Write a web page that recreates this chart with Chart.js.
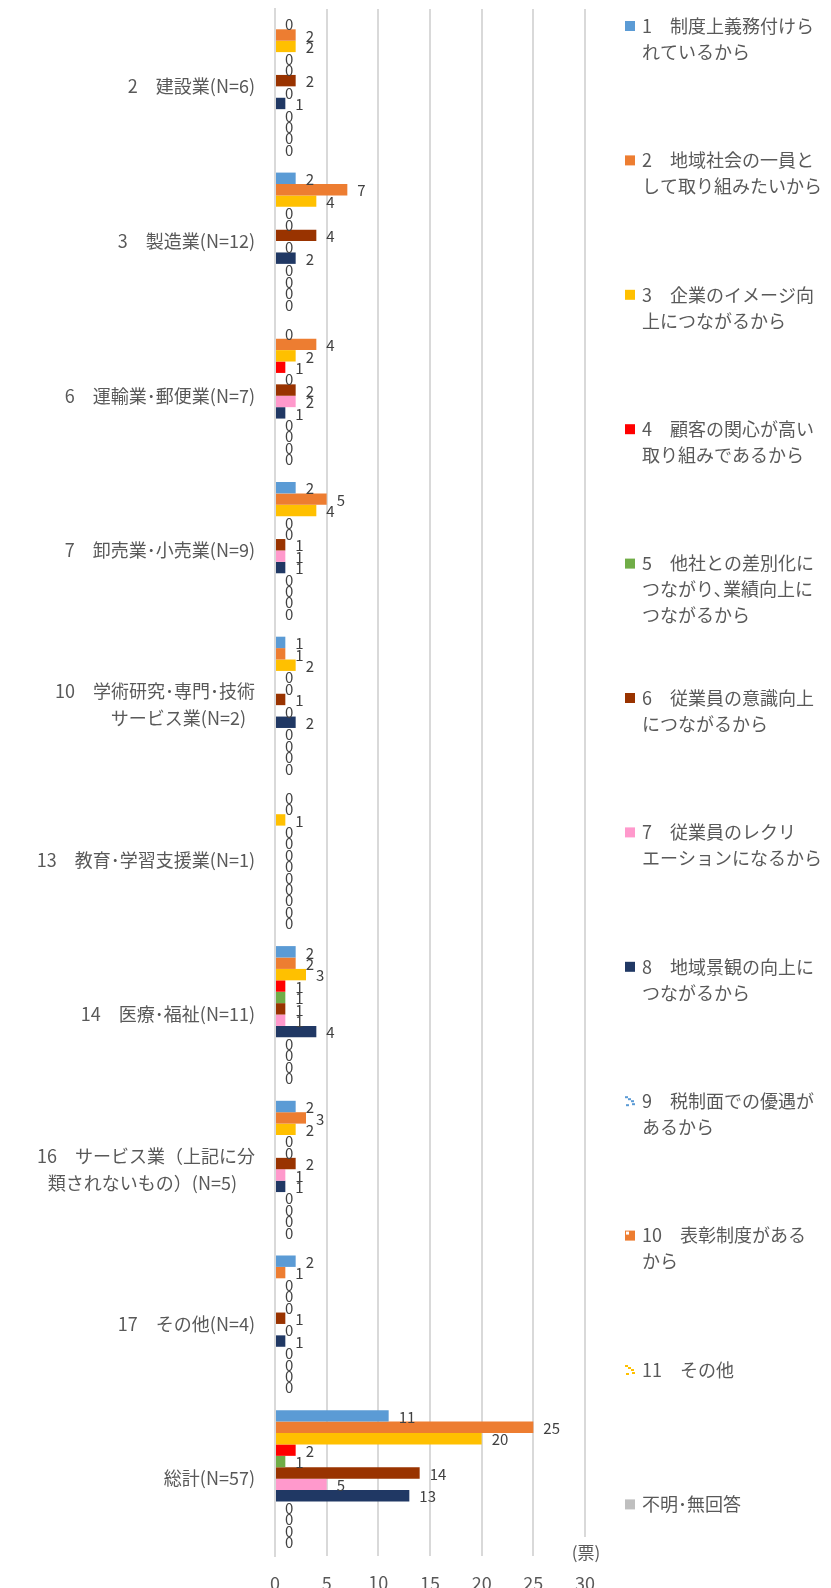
<!DOCTYPE html>
<html>
<head>
<meta charset="utf-8">
<script src="https://cdn.jsdelivr.net/npm/chart.js"></script>
<style>
  html, body { margin: 0; padding: 0; background: #fff; overflow: hidden; }
</style>
</head>
<body>
<canvas id="c" width="831" height="1600"></canvas>
<script>
// カテゴリ（業種）
const categories = [
  '2　建設業(N=6)',
  '3　製造業(N=12)',
  '6　運輸業･郵便業(N=7)',
  '7　卸売業･小売業(N=9)',
  ['10　学術研究･専門･技術', 'サービス業(N=2)\u2002'],
  '13　教育･学習支援業(N=1)',
  '14　医療･福祉(N=11)',
  ['16　サービス業（上記に分', '類されないもの）(N=5)　'],
  '17　その他(N=4)',
  '総計(N=57)'
];

// 凡例（理由）
const seriesNames = [
  ['1　制度上義務付けら', 'れているから'],
  ['2　地域社会の一員と', 'して取り組みたいから'],
  ['3　企業のイメージ向', '上につながるから'],
  ['4　顧客の関心が高い', '取り組みであるから'],
  ['5　他社との差別化に', 'つながり､業績向上に', 'つながるから'],
  ['6　従業員の意識向上', 'につながるから'],
  ['7　従業員のレクリ', 'エーションになるから'],
  ['8　地域景観の向上に', 'つながるから'],
  ['9　税制面での優遇が', 'あるから'],
  ['10　表彰制度がある', 'から'],
  ['11　その他'],
  ['不明･無回答']
];

const colors = ['#5B9BD5', '#ED7D31', '#FFC000', '#FF0000', '#70AD47', '#993300',
  '#FF99CC', '#203864', '#5B9BD5', '#ED7D31', '#FFC000', '#BFBFBF'];

// 各理由ごとの票数（カテゴリ順）
const r1 = [0, 2, 0, 2, 1, 0, 2, 2, 2, 11];
const r2 = [2, 7, 4, 5, 1, 0, 2, 3, 1, 25];
const r3 = [2, 4, 2, 4, 2, 1, 3, 2, 0, 20];
const r4 = [0, 0, 1, 0, 0, 0, 1, 0, 0, 2];
const r5 = [0, 0, 0, 0, 0, 0, 1, 0, 0, 1];
const r6 = [2, 4, 2, 1, 1, 0, 1, 2, 1, 14];
const r7 = [0, 0, 2, 1, 0, 0, 1, 1, 0, 5];
const r8 = [1, 2, 1, 1, 2, 0, 4, 1, 1, 13];
const r9 = [0, 0, 0, 0, 0, 0, 0, 0, 0, 0];
const r10 = [0, 0, 0, 0, 0, 0, 0, 0, 0, 0];
const r11 = [0, 0, 0, 0, 0, 0, 0, 0, 0, 0];
const r12 = [0, 0, 0, 0, 0, 0, 0, 0, 0, 0];
const values = [r1, r2, r3, r4, r5, r6, r7, r8, r9, r10, r11, r12];

const xTicks = [0, 5, 10, 15, 20, 25, 30];
const unitLabel = '(票)';

const FONT = '"Noto Sans CJK JP", "Noto Sans", sans-serif';
const TXT = '#595959';

// 値ラベル
const valueLabels = {
  id: 'valueLabels',
  afterDatasetsDraw(chart) {
    const ctx = chart.ctx;
    ctx.save();
    ctx.font = '15px ' + FONT;
    ctx.fillStyle = '#404040';
    ctx.textAlign = 'left';
    ctx.textBaseline = 'middle';
    chart.data.datasets.forEach((ds, i) => {
      chart.getDatasetMeta(i).data.forEach((el, j) => {
        ctx.fillText(String(ds.data[j]), el.x + 10, el.y + 1);
      });
    });
    ctx.restore();
  }
};

// 凡例（右側）と単位
const sideLegend = {
  id: 'sideLegend',
  afterDraw(chart) {
    const ctx = chart.ctx;
    ctx.save();
    const x0 = 625, tx = 642, y0 = 26, step = 134.4, lh = 26;
    ctx.font = '18px ' + FONT;
    ctx.textBaseline = 'middle';
    ctx.textAlign = 'left';
    seriesNames.forEach((lines, i) => {
      const y = y0 + i * step;
      const c = colors[i];
      if (i === 8 || i === 10) {
        // 斜線パターン
        ctx.fillStyle = c;
        ctx.fillRect(x0, y - 5, 3, 2);
        ctx.fillRect(x0 + 3, y - 3, 3, 2);
        ctx.fillRect(x0 + 6, y - 1, 3, 2);
        ctx.fillRect(x0 + 7, y + 2, 3, 2);
        ctx.fillRect(x0 + 1, y + 3, 3, 2);
      } else if (i === 9) {
        ctx.fillStyle = c;
        ctx.fillRect(x0, y - 5, 10, 10);
        ctx.fillStyle = '#fff';
        ctx.fillRect(x0 + 1, y - 4, 3, 3);
      } else {
        ctx.fillStyle = c;
        ctx.fillRect(x0, y - 5, 10, 10);
      }
      ctx.fillStyle = TXT;
      lines.forEach((t, k) => ctx.fillText(t, tx, y + k * lh));
    });
    // 単位
    ctx.fillStyle = '#fff';
    ctx.fillRect(566, 1537, 40, 30);
    ctx.fillStyle = TXT;
    ctx.font = '17px ' + FONT;
    ctx.textAlign = 'center';
    ctx.fillText(unitLabel, 586, 1553);
    ctx.restore();
  }
};

new Chart(document.getElementById('c'), {
  type: 'bar',
  data: {
    labels: categories,
    datasets: values.map((v, i) => ({
      label: seriesNames[i].join(''),
      data: v,
      backgroundColor: colors[i],
      borderWidth: 0,
      categoryPercentage: 0.885,
      barPercentage: 1.0
    }))
  },
  options: {
    indexAxis: 'y',
    responsive: false,
    animation: false,
    devicePixelRatio: 1,
    layout: { padding: { top: 9, right: 246, left: 0, bottom: 0 } },
    plugins: {
      legend: { display: false },
      tooltip: { enabled: false }
    },
    scales: {
      x: {
        min: 0,
        max: 30,
        afterBuildTicks: s => { s.ticks = xTicks.map(v => ({ value: v })); },
        afterFit: s => { s.height = 44; s.paddingLeft = 0; s.paddingRight = 0; },
        grid: { color: '#D9D9D9', lineWidth: 2, drawTicks: false },
        border: { display: false },
        ticks: { color: TXT, font: { family: FONT, size: 18 }, padding: 16 }
      },
      y: {
        afterFit: s => { s.width = 275; s.paddingTop = 0; s.paddingBottom = 0; },
        grid: { display: false, drawTicks: false },
        border: { display: true, color: '#D9D9D9', width: 2 },
        ticks: { color: TXT, font: { family: FONT, size: 18, lineHeight: 1.5 }, padding: 20 }
      }
    }
  },
  plugins: [valueLabels, sideLegend]
});
</script>
</body>
</html>
